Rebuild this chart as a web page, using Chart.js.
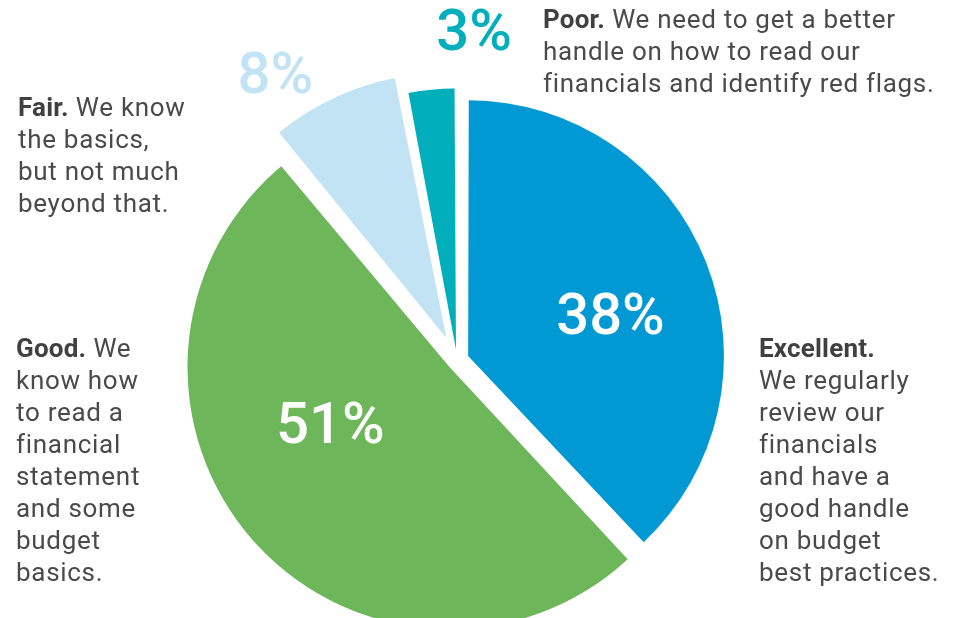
<!DOCTYPE html>
<html>
<head>
<meta charset="utf-8">
<script src="https://cdn.jsdelivr.net/npm/chart.js@4"></script>
<style>
html,body{margin:0;padding:0;background:#fff;}
#wrap{position:relative;width:961px;height:618px;overflow:hidden;}
#grafico{position:absolute;left:0;top:0;}
.nota{position:absolute;font-family:Roboto,"Noto Sans",sans-serif;font-size:26px;line-height:32px;letter-spacing:0.7px;color:#4a4a4a;white-space:nowrap;}
.nota b{font-weight:700;color:#404040;letter-spacing:0.2px;}
</style>
</head>
<body>
<div id="wrap">
<canvas id="grafico" width="961" height="618"></canvas>
<div class="nota" style="left:543px;top:3px">
<b>Poor.</b> We need to get a better<br>handle on how to read our<br>financials and identify red flags.</div>
<div class="nota" style="left:18px;top:91px">
<b>Fair.</b> We know<br>the basics,<br>but not much<br>beyond that.</div>
<div class="nota" style="left:16px;top:332px">
<b>Good.</b> We<br>know how<br>to read a<br>financial<br>statement<br>and some<br>budget<br>basics.</div>
<div class="nota" style="left:759px;top:332px">
<b>Excellent.</b><br>We regularly<br>review our<br>financials<br>and have a<br>good handle<br>on budget<br>best practices.</div>
</div>
<script>
// dados
var categorias=["Excellent","Good","Fair","Poor"];
var valores=[38,51,8,3];
var rotulos=["38%","51%","8%","3%"];
var cores=["#0099d3","#6db65a","#c2e3f4","#00aebc"];
var coresRotulo=["#ffffff","#ffffff","#c2e3f4","#00aebc"];
var afastamento=[48,40,100,44];
// posicao dos rotulos: fracao do raio e desvio de angulo (graus)
var rotuloRaio=[0.63,0.57,1.33,1.29];
var rotuloGiro=[6.8,13.2,-7.6,8.4];

var rotulosPlugin={
    id:"rotulos",
    afterDatasetsDraw(chart){
        var ctx=chart.ctx;
        var arcs=chart.getDatasetMeta(0).data;
        ctx.save();
        ctx.font="500 58px Roboto, sans-serif";
        ctx.textAlign="center";
        ctx.textBaseline="middle";
        arcs.forEach((arc,i)=>{
            var meio=(arc.startAngle+arc.endAngle)/2+rotuloGiro[i]*Math.PI/180;
            var r=arc.outerRadius*rotuloRaio[i];
            ctx.fillStyle=coresRotulo[i];
            ctx.fillText(rotulos[i],arc.x+Math.cos(meio)*r,arc.y+Math.sin(meio)*r);
        });
        ctx.restore();
    }
};

var dados={
    labels:categorias,
    datasets:[{
        data:valores,
        backgroundColor:cores,
        borderWidth:0,
        offset:afastamento
    }]
};

var config={
    type:"pie",
    data:dados,
    options:{
        responsive:false,
        animation:false,
        radius:252,
        layout:{padding:{left:0,right:47,top:103,bottom:0}},
        plugins:{legend:{display:false},tooltip:{enabled:false}}
    },
    plugins:[rotulosPlugin]
};

var ctx=document.getElementById("grafico").getContext("2d");
var g1=new Chart(ctx,config);
</script>
</body>
</html>
